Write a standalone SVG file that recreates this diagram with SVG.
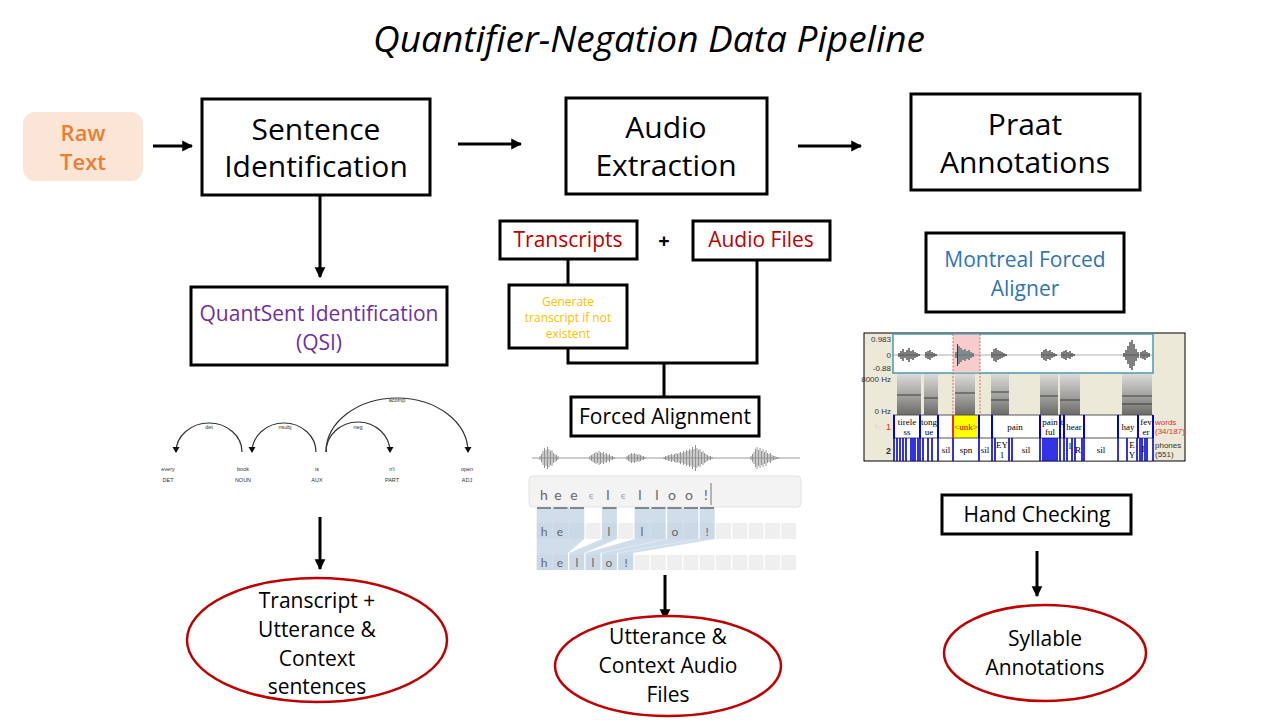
<svg xmlns="http://www.w3.org/2000/svg" width="1280" height="720" viewBox="0 0 1280 720">
<defs>
<style>
.t{font-family:"Open Sans","Noto Sans",sans-serif;}
.box{fill:#fff;stroke:#000;stroke-width:3;}
.ell{fill:#fff;stroke:#C00000;stroke-width:2.5;}
.big{font-size:30px;fill:#000;text-anchor:middle;}
.mid{font-size:21px;fill:#000;text-anchor:middle;}
.red{font-size:21px;fill:#C00000;text-anchor:middle;}
.conn{stroke:#000;stroke-width:3;fill:none;}
.dep{font-family:"Liberation Sans",Arial,sans-serif;font-size:5.5px;fill:#333;text-anchor:middle;}
.arc{fill:none;stroke:#333;stroke-width:1.2;}
.ctc{font-family:"Lato","Open Sans",sans-serif;fill:#666;text-anchor:middle;}
.pr{font-family:"Liberation Serif","Times New Roman",serif;font-size:9px;fill:#000;text-anchor:middle;}
.pl{font-family:"Liberation Sans",Arial,sans-serif;font-size:8px;fill:#333;}
.bl{stroke:#0000DD;stroke-width:2;}
</style>
<marker id="ah" viewBox="0 0 10 10" refX="9" refY="5" markerWidth="3.6" markerHeight="4" orient="auto" markerUnits="strokeWidth">
<path d="M0 0L10 5L0 10Z" fill="#000"/>
</marker>
<linearGradient id="spec" x1="0" y1="0" x2="0" y2="1">
<stop offset="0" stop-color="#d8d8d8"/>
<stop offset="0.5" stop-color="#9a9a9a"/>
<stop offset="1" stop-color="#555"/>
</linearGradient>
</defs>
<rect width="1280" height="720" fill="#fff"/>

<text id="title" class="t" x="649" y="52" font-size="37" font-style="italic" text-anchor="middle" fill="#000">Quantifier-Negation Data Pipeline</text>

<g id="connectors">
<line class="conn" x1="153" y1="146" x2="192" y2="146" marker-end="url(#ah)"/>
<line class="conn" x1="458" y1="144" x2="521" y2="144" marker-end="url(#ah)"/>
<line class="conn" x1="798" y1="146" x2="861" y2="146" marker-end="url(#ah)"/>
<line class="conn" x1="320" y1="196" x2="320" y2="277" marker-end="url(#ah)"/>
<line class="conn" x1="320" y1="517" x2="320" y2="569" marker-end="url(#ah)"/>
<line class="conn" x1="568" y1="259" x2="568" y2="286"/>
<path class="conn" d="M568 348V363H757V260"/>
<line class="conn" x1="664" y1="362" x2="664" y2="398"/>
<line class="conn" x1="665" y1="575" x2="665" y2="619" marker-end="url(#ah)"/>
<line class="conn" x1="1037" y1="551" x2="1037" y2="596" marker-end="url(#ah)"/>
</g>

<g id="raw-text">
<rect x="23" y="112" width="120" height="69" rx="12" fill="#FBE5D6"/>
<text class="t" x="83" y="141" font-size="22" font-weight="600" fill="#ED7D31" text-anchor="middle">Raw</text>
<text class="t" x="83" y="170" font-size="22" font-weight="600" fill="#ED7D31" text-anchor="middle">Text</text>
</g>

<g id="sentence-identification">
<rect class="box" x="202" y="99" width="228" height="96"/>
<text class="t big" x="316" y="140">Sentence</text>
<text class="t big" x="316" y="177">Identification</text>
</g>

<g id="audio-extraction">
<rect class="box" x="566" y="98" width="201" height="96"/>
<text class="t big" x="666" y="138">Audio</text>
<text class="t big" x="666" y="176">Extraction</text>
</g>

<g id="praat-annotations">
<rect class="box" x="911" y="94" width="229" height="96"/>
<text class="t big" x="1025" y="135">Praat</text>
<text class="t big" x="1025" y="173">Annotations</text>
</g>

<g id="qsi">
<rect class="box" x="191" y="287" width="256" height="78"/>
<text class="t" x="319" y="321" font-size="21" fill="#7030A0" text-anchor="middle">QuantSent Identification</text>
<text class="t" x="319" y="350" font-size="21" fill="#7030A0" text-anchor="middle">(QSI)</text>
</g>

<g id="dependency-parse">
<path class="arc" d="M242 452A33 29 0 0 0 176 452"/>
<path class="arc" d="M316 452A32 29 0 0 0 252 452"/>
<path class="arc" d="M326 452A32 30 0 0 1 390 452"/>
<path class="arc" d="M326 452A71 54 0 0 1 468 452"/>
<path d="M172.5 447H179.5L176 453Z M248.5 447H255.5L252 453Z M386.5 447H393.5L390 453Z M464.5 447H471.5L468 453Z" fill="#111"/>
<text class="dep" x="209" y="429">det</text>
<text class="dep" x="285" y="429">nsubj</text>
<text class="dep" x="358" y="429">neg</text>
<text class="dep" x="397" y="402">acomp</text>
<text class="dep" x="168" y="471">every</text>
<text class="dep" x="243" y="471">book</text>
<text class="dep" x="317" y="471">is</text>
<text class="dep" x="392" y="471">n't</text>
<text class="dep" x="467" y="471">open</text>
<text class="dep" x="168" y="482">DET</text>
<text class="dep" x="243" y="482">NOUN</text>
<text class="dep" x="317" y="482">AUX</text>
<text class="dep" x="392" y="482">PART</text>
<text class="dep" x="467" y="482">ADJ</text>
</g>

<g id="output-sentences">
<ellipse class="ell" cx="317" cy="640" rx="130" ry="62"/>
<text class="t mid" x="317" y="608">Transcript +</text>
<text class="t mid" x="317" y="637">Utterance &amp;</text>
<text class="t mid" x="317" y="666">Context</text>
<text class="t mid" x="317" y="694">sentences</text>
</g>

<g id="transcripts">
<rect class="box" x="500" y="221" width="137" height="38"/>
<text class="t red" x="568" y="247">Transcripts</text>
</g>
<text class="t" x="664" y="248" font-size="20" font-weight="bold" text-anchor="middle" fill="#000">+</text>
<g id="audio-files">
<rect class="box" x="693" y="221" width="137" height="39"/>
<text class="t red" x="761" y="247">Audio Files</text>
</g>

<g id="generate-transcript">
<rect class="box" x="509" y="285" width="118" height="63"/>
<text class="t" x="568" y="306" font-size="12" fill="#FFC000" text-anchor="middle">Generate</text>
<text class="t" x="568" y="322" font-size="12" fill="#FFC000" text-anchor="middle">transcript if not</text>
<text class="t" x="568" y="338" font-size="12" fill="#FFC000" text-anchor="middle">existent</text>
</g>

<g id="forced-alignment">
<rect class="box" x="571" y="397" width="188" height="39"/>
<text class="t mid" x="665" y="424">Forced Alignment</text>
</g>

<g id="ctc-alignment">
<line x1="532" y1="458" x2="800" y2="458" stroke="#999" stroke-width="1"/>
<path stroke="#888" stroke-width="0.9" fill="none" d="M540 456v4M541.5 454v8M543 451v14M544.5 448v20M546 450v16M547.5 447v22M549 449v18M550.5 451v14M552 450v16M553.5 453v10M555 454v8M556.5 455v6M558 456v4
M590 456v4M591.5 455v6M593 454v8M594.5 453v10M596 452v12M597.5 453v10M599 451v14M600.5 452v12M602 453v10M603.5 452v12M605 454v8M606.5 453v10M608 455v6M609.5 454v8M611 456v4M612.5 456v4M614 457v2
M627 456v4M628.5 455v6M630 454v8M631.5 453v10M633 454v8M634.5 453v10M636 454v8M637.5 455v6M639 454v8M640.5 455v6M642 456v4M643.5 456v4M645 457v2
M664 457v2M665.5 456v4M667 456v4M668.5 455v6M670 455v6M671.5 454v8M673 455v6M674.5 454v8M676 453v10M677.5 454v8M679 453v10M680.5 452v12M682 453v10M683.5 451v14M685 452v12M686.5 450v16M688 451v14M689.5 449v18M691 450v16M692.5 447v22M694 449v18M695.5 445v26M697 448v20M698.5 450v16M700 449v18M701.5 452v12M703 451v14M704.5 453v10M706 454v8M707.5 455v6M709 456v4M710.5 456v4M712 457v2
M751 456v4M752.5 454v8M754 452v12M755.5 449v18M757 447v22M758.5 450v16M760 448v20M761.5 451v14M763 449v18M764.5 452v12M766 450v16M767.5 453v10M769 454v8M770.5 453v10M772 455v6M773.5 456v4M775 456v4M776.5 457v2M778 457v2"/>
<rect x="529" y="476" width="272" height="31" rx="4" fill="#F3F3F3" stroke="#E2E2E2" stroke-width="1"/>
<g class="ctc" font-size="14">
<text x="544" y="500">h</text><text x="558" y="500">e</text><text x="574" y="500">e</text>
<text x="591" y="499" font-size="10" fill="#999">ϵ</text><text x="608" y="500">l</text>
<text x="623" y="499" font-size="10" fill="#999">ϵ</text><text x="640" y="500">l</text>
<text x="657" y="500">l</text><text x="672" y="500">o</text><text x="689" y="500">o</text><text x="706" y="500">!</text>
</g>
<line x1="711" y1="483" x2="711" y2="505" stroke="#777" stroke-width="1"/>
<g fill="#EFEFEF">
<rect x="536.7" y="523" width="15" height="16"/><rect x="553" y="523" width="15" height="16"/><rect x="569.3" y="523" width="15" height="16"/><rect x="585.6" y="523" width="15" height="16"/>
<rect x="601.9" y="523" width="15" height="16"/><rect x="618.2" y="523" width="15" height="16"/><rect x="634.5" y="523" width="15" height="16"/><rect x="650.8" y="523" width="15" height="16"/>
<rect x="667.1" y="523" width="15" height="16"/><rect x="683.4" y="523" width="15" height="16"/><rect x="699.7" y="523" width="15" height="16"/><rect x="716" y="523" width="15" height="16"/>
<rect x="732.3" y="523" width="15" height="16"/><rect x="748.6" y="523" width="15" height="16"/><rect x="764.9" y="523" width="15" height="16"/><rect x="781.2" y="523" width="15" height="16"/>
<rect x="536.7" y="555" width="15" height="15"/><rect x="553" y="555" width="15" height="15"/><rect x="569.3" y="555" width="15" height="15"/><rect x="585.6" y="555" width="15" height="15"/>
<rect x="601.9" y="555" width="15" height="15"/><rect x="618.2" y="555" width="15" height="15"/><rect x="634.5" y="555" width="15" height="15"/><rect x="650.8" y="555" width="15" height="15"/>
<rect x="667.1" y="555" width="15" height="15"/><rect x="683.4" y="555" width="15" height="15"/><rect x="699.7" y="555" width="15" height="15"/><rect x="716" y="555" width="15" height="15"/>
<rect x="732.3" y="555" width="15" height="15"/><rect x="748.6" y="555" width="15" height="15"/><rect x="764.9" y="555" width="15" height="15"/><rect x="781.2" y="555" width="15" height="15"/>
</g>
<g fill="#B7CCE2" fill-opacity="0.65">
<path d="M536.7 508H584.3V539L568 553V570H536.7Z"/>
<path d="M601.9 508H616.9V539L584.3 553V570H569.3V553L601.9 539Z"/>
<path d="M634.5 508H665.8V539L600.6 553V570H585.6V553L634.5 539Z"/>
<path d="M667.1 508H698.4V539L616.9 553V570H601.9V553L667.1 539Z"/>
<path d="M699.7 508H714.7V539L633.2 553V570H618.2V553L699.7 539Z"/>
</g>
<g stroke="#666" stroke-width="1.5">
<path d="M537 508h14M553.5 508h14M570 508h14M602.5 508h14M635 508h14M651.5 508h14M667.5 508h14M684 508h14M700 508h14"/>
</g>
<g class="ctc" font-size="12">
<text x="544" y="536">h</text><text x="560" y="536">e</text><text x="609" y="536">l</text><text x="642" y="536">l</text><text x="675" y="536">o</text><text x="707" y="536">!</text>
<text x="544" y="567">h</text><text x="560" y="567">e</text><text x="577" y="567">l</text><text x="593" y="567">l</text><text x="609" y="567">o</text><text x="626" y="567">!</text>
</g>
</g>

<g id="output-audio">
<ellipse class="ell" cx="668" cy="666" rx="113" ry="50"/>
<text class="t mid" x="668" y="644">Utterance &amp;</text>
<text class="t mid" x="668" y="673">Context Audio</text>
<text class="t mid" x="668" y="702">Files</text>
</g>

<g id="montreal-forced-aligner">
<rect class="box" x="926" y="233" width="198" height="79"/>
<text class="t" x="1025" y="267" font-size="21" fill="#2E75B6" text-anchor="middle">Montreal Forced</text>
<text class="t" x="1025" y="296" font-size="21" fill="#2E75B6" text-anchor="middle">Aligner</text>
</g>

<g id="praat-screenshot">
<rect x="864" y="333" width="321" height="128" fill="#ECE9D8" stroke="#000" stroke-width="1"/>
<rect x="893" y="334" width="260" height="39" fill="#fff" stroke="#4A9BB0" stroke-width="1.5"/>
<rect x="953" y="334.8" width="27" height="37.5" fill="#F9CCCC"/>
<line x1="893" y1="355" x2="1153" y2="355" stroke="#999" stroke-width="0.8"/>
<path stroke="#000" stroke-width="1" fill="none" d="M899 353v4M901 351v8M903 349v12M905 352v6M907 350v10M909 348v14M911 351v8M913 350v10M915 352v6M917 353v4M919 354v2M926 352v6M928 351v8M930 350v10M932 352v6M934 353v4M936 354v2
M992 352v6M994 349v12M996 348v14M998 350v10M1000 351v8M1002 352v6M1004 353v4M1006 354v2
M1042 352v6M1044 350v10M1046 349v12M1048 351v8M1050 350v10M1052 352v6M1054 353v4M1056 354v2M1062 352v6M1064 351v8M1066 350v10M1068 352v6M1070 351v8M1072 353v4M1074 354v2
M1124 353v4M1126 350v10M1128 346v18M1130 342v26M1132 340v30M1134 344v22M1136 349v12M1138 352v6M1141 352v6M1143 351v8M1145 350v10M1147 352v6M1149 353v4"/>
<path stroke="#0B4A4A" stroke-width="1" fill="none" d="M956 352v6M957.5 344v22M959 346v18M961 348v14M963 350v10M965 349v12M967 351v8M969 350v10M971 352v6M973 353v4"/>
<g fill="url(#spec)" opacity="0.85">
<rect x="897" y="374" width="24" height="41"/>
<rect x="924" y="374" width="14" height="41"/>
<rect x="955" y="374" width="20" height="41"/>
<rect x="991" y="374" width="18" height="41"/>
<rect x="1040" y="374" width="18" height="41"/>
<rect x="1060" y="374" width="20" height="41"/>
<rect x="1122" y="374" width="30" height="41"/>
</g>
<g stroke="#333" stroke-width="1.5" opacity="0.6">
<path d="M897 395h24M924 398h14M955 393h20M991 392h18M991 400h18M1040 396h18M1060 400h20M1122 396h30M1122 404h30"/>
</g>
<line x1="980" y1="334" x2="980" y2="461" stroke="#E04040" stroke-width="0.8" stroke-dasharray="2 1.5"/>
<line x1="953" y1="334" x2="953" y2="415" stroke="#E04040" stroke-width="0.8" stroke-dasharray="2 1.5"/>
<rect x="893" y="415" width="260" height="46" fill="#fff"/>
<rect x="953" y="415" width="26" height="23" fill="#FFFF00"/>
<line x1="893" y1="415" x2="1153" y2="415" stroke="#555" stroke-width="1"/>
<line x1="893" y1="438" x2="1153" y2="438" stroke="#555" stroke-width="1"/>
<line x1="893" y1="461" x2="1153" y2="461" stroke="#555" stroke-width="1"/>
<g class="bl">
<path d="M894 415v23M920 415v23M938 415v23M979 415v23M992 415v23M1040 415v23M1060 415v23M1064 415v23M1084 415v23M1118 415v23M1138 415v23M1153 415v23"/>
<path stroke-width="1.6" d="M894 438v23M897 438v23M900 438v23M903 438v23M906 438v23M911 438v23M913 438v23M915 438v23M918 438v23M920 438v23M923 438v23M928 438v23M932 438v23M938 438v23M953 438v23M979 438v23M992 438v23M995 438v23M1009 438v23M1012 438v23M1040 438v23M1043 438v23M1045 438v23M1047 438v23M1049 438v23M1051 438v23M1053 438v23M1055 438v23M1057 438v23M1060 438v23M1064 438v23M1067 438v23M1072 438v23M1075 438v23M1082 438v23M1084 438v23M1118 438v23M1127 438v23M1137 438v23M1140 438v23M1142 438v23M1145 438v23M1147 438v23M1153 438v23"/>
</g>
<line x1="953" y1="415" x2="953" y2="438" stroke="#E03030" stroke-width="2"/>
<g class="pr">
<text x="907" y="425">tirele</text><text x="907" y="435">ss</text>
<text x="929" y="425">tong</text><text x="929" y="435">ue</text>
<text x="966" y="430" fill="#CC0000">&lt;unk&gt;</text>
<text x="1015" y="430">pain</text>
<text x="1050" y="425">pain</text><text x="1050" y="435">ful</text>
<text x="1062" y="425">t</text>
<text x="1074" y="430">hear</text>
<text x="1128" y="430">hay</text>
<text x="1146" y="425">fev</text><text x="1146" y="435">er</text>
<text x="946" y="453">sil</text>
<text x="966" y="453">spn</text>
<text x="985" y="453">sil</text>
<text x="1002" y="448">EY</text><text x="1002" y="458">1</text>
<text x="1026" y="453">sil</text>
<text x="1070" y="449">l</text>
<text x="1078" y="453">R</text>
<text x="1101" y="453">sil</text>
<text x="1132" y="448">E</text><text x="1132" y="458">Y</text>
<text x="1143" y="452">I</text>
</g>
<g class="pl" text-anchor="end">
<text x="891" y="342">0.983</text>
<text x="891" y="358">0</text>
<text x="891" y="371">-0.88</text>
<text x="891" y="382">8000 Hz</text>
<text x="891" y="414">0 Hz</text>
<text x="891" y="430" fill="#E03030" font-size="9">☞ 1</text>
<text x="891" y="454" font-size="9" font-weight="bold">2</text>
</g>
<g class="pl" font-size="7.5">
<text x="1155" y="425" fill="#E03030">words</text>
<text x="1155" y="434" fill="#E03030">(34/187)</text>
<text x="1155" y="448">phones</text>
<text x="1155" y="457">(551)</text>
</g>
</g>

<g id="hand-checking">
<rect class="box" x="942" y="495" width="189" height="39"/>
<text class="t mid" x="1037" y="522">Hand Checking</text>
</g>

<g id="output-syllables">
<ellipse class="ell" cx="1045" cy="653" rx="101" ry="48"/>
<text class="t mid" x="1045" y="646">Syllable</text>
<text class="t mid" x="1045" y="675">Annotations</text>
</g>
</svg>
